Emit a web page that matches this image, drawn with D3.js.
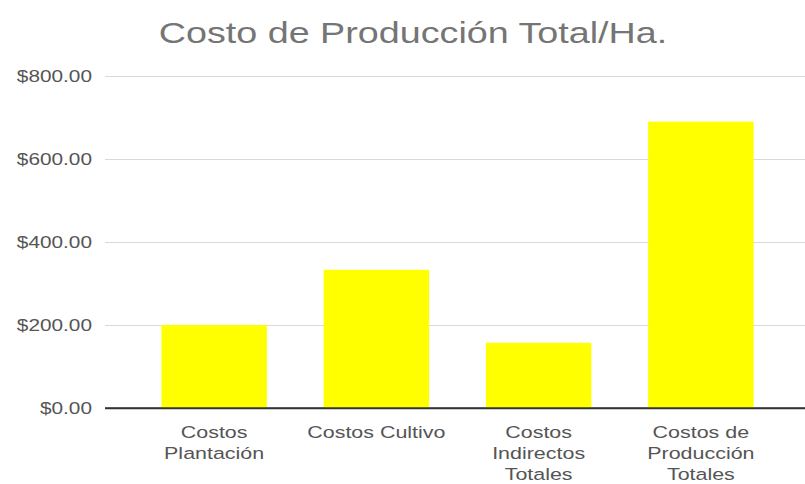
<!DOCTYPE html>
<html lang="es">
<head>
    <meta charset="UTF-8">
    <title>Costo de Producción Total/Ha.</title>
    <style>
        body { margin: 0; background: #fff; }
        svg { display: block; font-family: "Liberation Sans", Arial, sans-serif; }
    </style>
</head>
<body>
<div id="chart"></div>
<script src="https://cdn.jsdelivr.net/npm/d3@7/dist/d3.min.js"></script>
<script>
    // data
    const categories = [
        ["Costos", "Plantación"],
        ["Costos Cultivo"],
        ["Costos", "Indirectos", "Totales"],
        ["Costos de", "Producción", "Totales"]
    ]
    const values = [200, 333, 157, 690]
    const yTicks = [0, 200, 400, 600, 800]

    const width = 805, height = 484
    const sx = 1.3  // the reference text is drawn wider than normal

    let svg = d3.select("#chart").append("svg")
        .attr("width", width)
        .attr("height", height)

    let x = d3.scaleBand()
        .domain(d3.range(categories.length))
        .range([133, 782])
        .paddingInner(0.35)
        .paddingOuter(0.175)

    let y = d3.scaleLinear()
        .domain([0, 800])
        .range([408, 76])

    // title
    svg.append("text")
        .attr("transform", `translate(413,43) scale(${sx},1)`)
        .attr("text-anchor", "middle")
        .style("font-size", "29px")
        .style("fill", "#757575")
        .text("Costo de Producción Total/Ha.")

    // gridlines + y labels
    let yAxis = svg.append("g")
        .attr("transform", "translate(105,0)")
        .call(d3.axisLeft(y)
            .tickValues(yTicks)
            .tickSize(-700)
            .tickFormat(d => "$" + d3.format(",.2f")(d)))
    yAxis.select(".domain").remove()
    yAxis.selectAll(".tick line")
        .attr("stroke", d => d === 0 ? "#333" : "#d9d9d9")
        .attr("stroke-width", d => d === 0 ? 1.5 : 1)
    yAxis.selectAll(".tick text")
        .attr("x", -13 / sx)
        .attr("transform", `scale(${sx},1)`)
        .attr("text-anchor", "end")
        .style("font-size", "16px")
        .style("fill", "#555")
        .style("font-family", "Liberation Sans, Arial, sans-serif")

    // bars
    svg.append("g")
        .selectAll("rect")
        .data(values)
        .enter()
        .append("rect")
        .attr("x", (d, i) => x(i))
        .attr("y", d => y(d))
        .attr("width", x.bandwidth())
        .attr("height", d => y(0) - y(d))
        .style("fill", "#ffff00")

    // baseline over bars
    svg.append("line")
        .attr("x1", 105).attr("x2", 805)
        .attr("y1", y(0)).attr("y2", y(0))
        .attr("stroke", "#333")
        .attr("stroke-width", 1.5)

    // category labels
    let labels = svg.append("g")
        .selectAll("text")
        .data(categories)
        .enter()
        .append("text")
        .attr("transform", (d, i) => `translate(${x(i) + x.bandwidth() / 2},438) scale(${sx},1)`)
        .attr("text-anchor", "middle")
        .style("font-size", "16.5px")
        .style("fill", "#555")

    labels.selectAll("tspan")
        .data(d => d)
        .enter()
        .append("tspan")
        .attr("x", 0)
        .attr("dy", (d, i) => i === 0 ? 0 : 21)
        .text(d => d)
</script>
</body>
</html>
